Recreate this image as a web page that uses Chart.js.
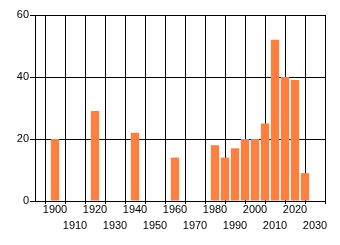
<!DOCTYPE html>
<html>
<head>
<meta charset="utf-8">
<script src="https://cdn.jsdelivr.net/npm/chart.js@4"></script>
<style>
  html, body { margin: 0; padding: 0; background: #fff; }
  #wrap { width: 340px; height: 245px; }
</style>
</head>
<body>
<div id="wrap"><canvas id="chart" width="340" height="245"></canvas></div>
<script>
// bar years and heights
const years = [1900, 1920, 1940, 1960, 1980, 1985, 1990, 1995, 2000, 2005, 2010, 2015, 2020, 2025];
const values = [20, 29, 22, 14, 18, 14, 17, 20, 20, 25, 52, 40, 39, 9];
const xTickYears = [1900, 1910, 1920, 1930, 1940, 1950, 1960, 1970, 1980, 1990, 2000, 2010, 2020, 2030];
const yTicks = [0, 20, 40, 60];

const barColor = '#ff7f3f';
const labelFont = { family: 'Liberation Sans, Arial, sans-serif', size: 11, lineHeight: '16px' };

const ctx = document.getElementById('chart').getContext('2d');
new Chart(ctx, {
  type: 'bar',
  data: {
    datasets: [{
      data: years.map((y, i) => ({ x: y, y: values[i] })),
      backgroundColor: barColor,
      borderWidth: 0,
      barPercentage: 1,
      categoryPercentage: 0.83,
    }],
  },
  options: {
    responsive: false,
    animation: false,
    layout: { padding: { top: 15, right: 15, left: 0, bottom: 0 } },
    plugins: { legend: { display: false }, tooltip: { enabled: false } },
    scales: {
      x: {
        type: 'linear',
        min: 1890,
        max: 2035,
        offset: false,
        afterBuildTicks: (scale) => {
          scale.ticks = xTickYears.map((v) => ({ value: v }));
        },
        afterFit: (scale) => { scale.height = 44; },
        grid: { color: '#000', lineWidth: 1, tickLength: 3 },
        border: { display: true, color: '#000', width: 1 },
        ticks: {
          color: '#000',
          font: labelFont,
          padding: -2,
          maxRotation: 0,
          autoSkip: false,
          // alternate labels drop to a second row
          callback: (v) => (xTickYears.indexOf(v) % 2 === 0 ? [String(v)] : ['', String(v)]),
        },
      },
      y: {
        min: 0,
        max: 60,
        afterBuildTicks: (scale) => {
          scale.ticks = yTicks.map((v) => ({ value: v }));
        },
        afterFit: (scale) => { scale.width = 35; },
        grid: { color: '#000', lineWidth: 1, tickLength: 5 },
        border: { display: true, color: '#000', width: 1 },
        ticks: { color: '#000', font: labelFont, padding: 1 },
      },
    },
  },
});
</script>
</body>
</html>
